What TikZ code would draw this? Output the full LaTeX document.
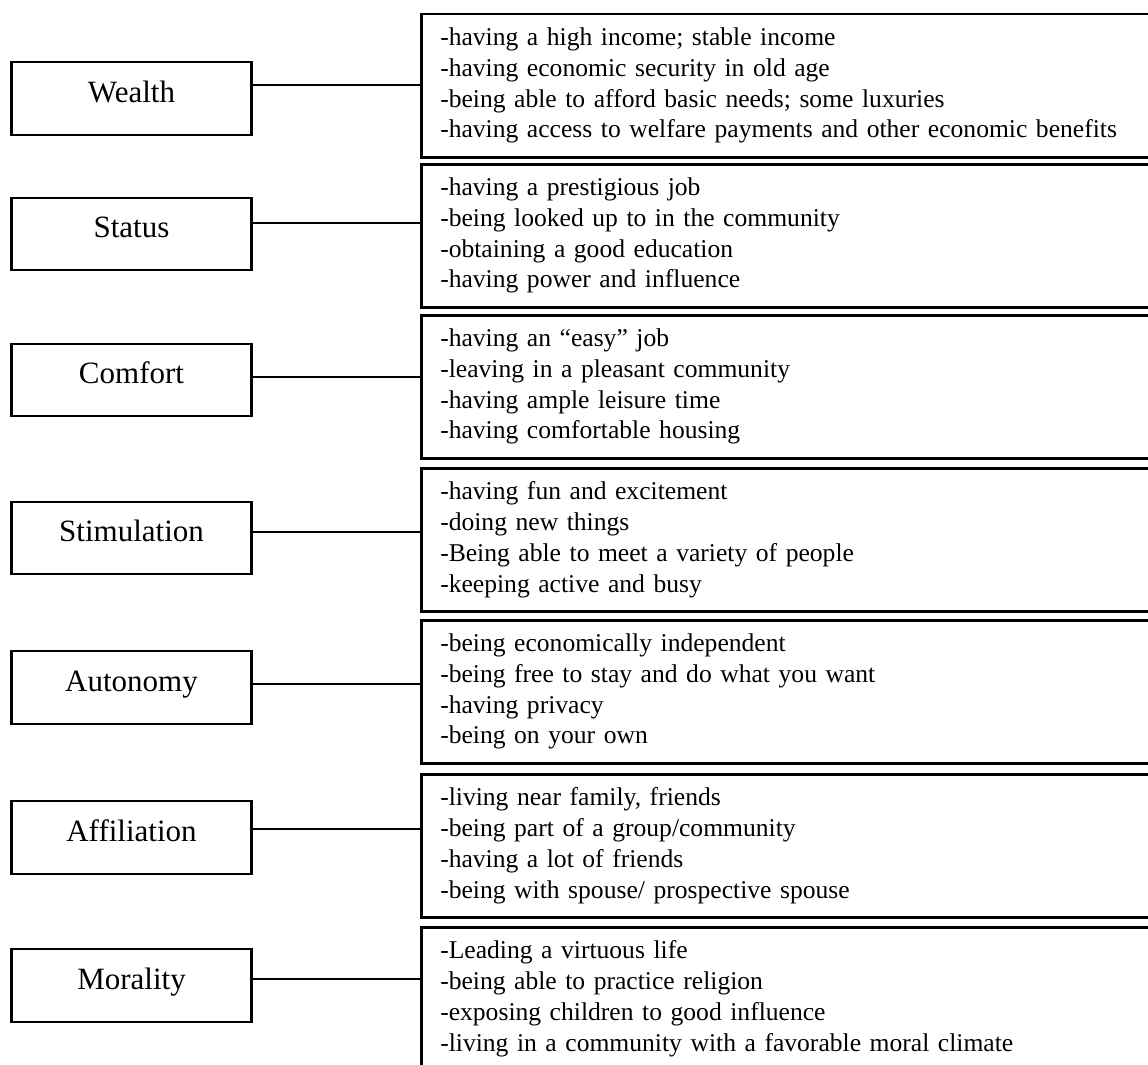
\documentclass[tikz,border=0pt]{standalone}
\usepackage{fontspec}
\setmainfont{Liberation Serif}
\begin{document}
\begin{tikzpicture}[x=1pt,y=-1pt,
  cat/.style={draw, line width=2.1pt, minimum width=240pt, minimum height=72.5pt, inner sep=0pt,
    font=\fontsize{31}{36}\selectfont, text height=21pt, text depth=14pt},
  items/.style={draw, line width=2.5pt, anchor=north west, minimum height=143pt, text width=720pt,
    inner xsep=19pt, inner ysep=0pt, align=left, font=\fontsize{25.6}{30.7}\selectfont},
  link/.style={line width=1.8pt}]
\useasboundingbox (0,0) rectangle (1148,1065);
\fill[white] (0,0) rectangle (1148,1065);

% category boxes
\node[cat] (wl) at (131.5,98.5) {Wealth};
\node[cat] (sl) at (131.5,234) {Status};
\node[cat] (cl) at (131.5,380) {Comfort};
\node[cat] (tl) at (131.5,538) {Stimulation};
\node[cat] (al) at (131.5,687.5) {Autonomy};
\node[cat] (fl) at (131.5,837.5) {Affiliation};
\node[cat] (ml) at (131.5,985.5) {Morality};

% item boxes
\node[items] (wr) at (420,13) {-having a high income; stable income\\-having economic security in old age\\-being able to afford basic needs; some luxuries\\-having access to welfare payments and other economic benefits};
\node[items] (sr) at (420,163) {-having a prestigious job\\-being looked up to in the community\\-obtaining a good education\\-having power and influence};
\node[items] (cr) at (420,314) {-having an “easy” job\\-leaving in a pleasant community\\-having ample leisure time\\-having comfortable housing};
\node[items] (tr) at (420,467) {-having fun and excitement\\-doing new things\\-Being able to meet a variety of people\\-keeping active and busy};
\node[items] (ar) at (420,619) {-being economically independent\\-being free to stay and do what you want\\-having privacy\\-being on your own};
\node[items] (fr) at (420,773) {-living near family, friends\\-being part of a group/community\\-having a lot of friends\\-being with spouse/ prospective spouse};
\node[items] (mr) at (420,926) {-Leading a virtuous life\\-being able to practice religion\\-exposing children to good influence\\-living in a community with a favorable moral climate};

% connectors
\draw[link] (wl.east |- 0,85) -- (wr.west |- 0,85);
\draw[link] (sl.east |- 0,223) -- (sr.west |- 0,223);
\draw[link] (cl.east |- 0,377) -- (cr.west |- 0,377);
\draw[link] (tl.east |- 0,532) -- (tr.west |- 0,532);
\draw[link] (al.east |- 0,684) -- (ar.west |- 0,684);
\draw[link] (fl.east |- 0,829) -- (fr.west |- 0,829);
\draw[link] (ml.east |- 0,979) -- (mr.west |- 0,979);
\end{tikzpicture}
\end{document}
